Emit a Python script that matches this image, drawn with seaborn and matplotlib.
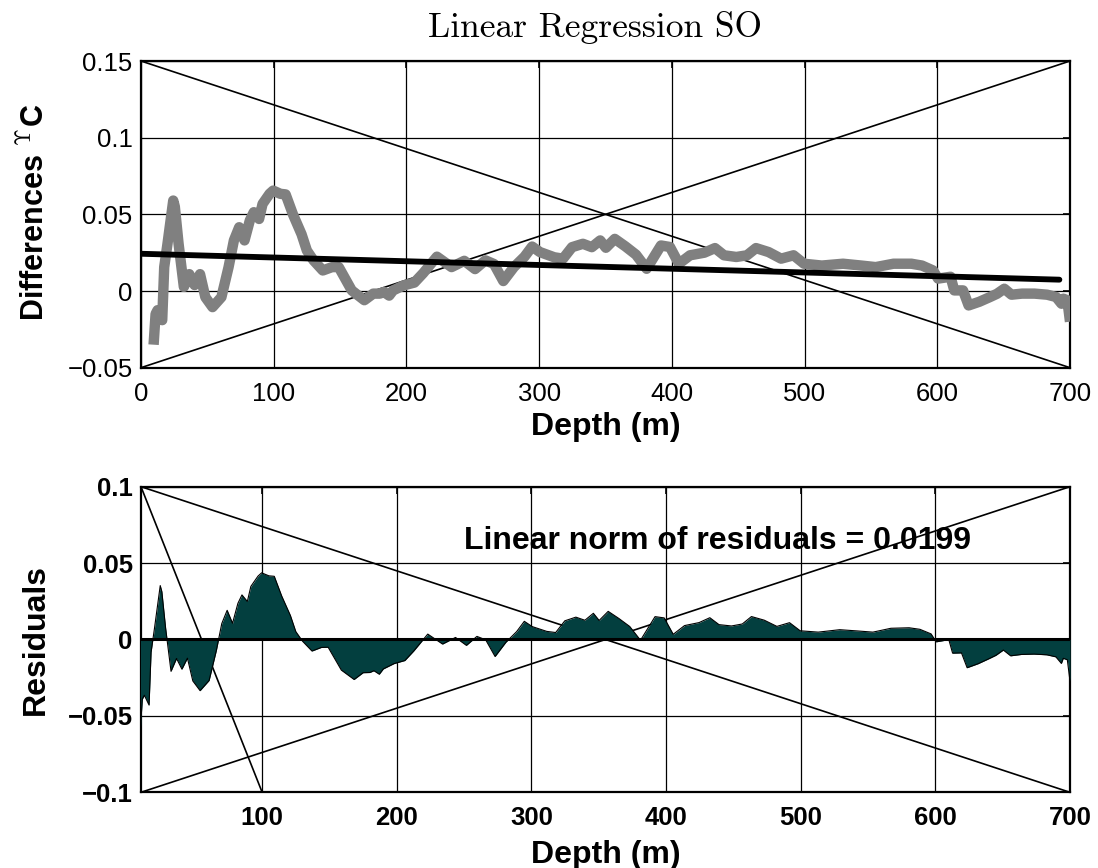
import numpy as np
import pandas as pd
import matplotlib
matplotlib.use("Agg")
import matplotlib.pyplot as plt
import seaborn as sns

# ---------------- data ----------------
depth = [9.5, 11, 12.5, 16, 17.5, 20, 24.3, 25.5, 28.3, 32.3, 36.4, 40.4, 44.5, 48.5,
         53.9, 60.6, 66, 70, 74, 78, 82, 85, 89, 91.6, 96.9, 99.6, 105, 109, 114.5,
         121, 125, 130, 137, 144, 149, 158.8, 168.3, 175, 180, 183, 187, 190, 198,
         206, 212.6, 223, 234, 243.6, 251.7, 259.5, 266, 273, 281, 289, 294.7, 300.6,
         311.4, 318, 324.8, 333, 339.7, 346, 350.3, 357, 365, 373, 381, 391.8, 398.6,
         405.3, 413.7, 424.5, 432.5, 439.3, 448.6, 456.6, 463.4, 472.9, 482.3, 491.7,
         499.6, 513, 529, 542.8, 553.6, 567, 580.5, 588.5, 596.8, 600.6, 610, 612.8,
         619.4, 623.6, 631.7, 639.8, 645, 650.5, 655.9, 663.9, 673.3, 682.8, 689.5,
         693.6, 695, 698, 700]
differences = [-0.035, -0.015, -0.0125, -0.019, 0.0156, 0.031, 0.059, 0.055, 0.031,
               0.0027, 0.011, 0.0039, 0.011, -0.004, -0.0105, -0.004, 0.0156, 0.033,
               0.0416, 0.033, 0.046, 0.0514, 0.047, 0.0568, 0.0634, 0.0655, 0.0634,
               0.063, 0.050, 0.037, 0.0264, 0.020, 0.0134, 0.0156, 0.0156, 0.0004,
               -0.006, -0.0017, -0.0017, -0.0006, -0.003, 0.0004, 0.0037, 0.0055,
               0.0116, 0.0224, 0.0156, 0.0197, 0.0143, 0.020, 0.0176, 0.0065, 0.0156,
               0.0224, 0.029, 0.0254, 0.022, 0.0211, 0.0286, 0.0308, 0.0286, 0.033,
               0.0282, 0.034, 0.0291, 0.0237, 0.0145, 0.0297, 0.0287, 0.0178, 0.0233,
               0.025, 0.028, 0.0233, 0.0222, 0.0233, 0.028, 0.0254, 0.0211, 0.0233,
               0.0178, 0.0166, 0.0178, 0.0166, 0.0156, 0.0178, 0.0178, 0.0166, 0.0134,
               0.0081, 0.0093, 0.0004, 0.0004, -0.0094, -0.007, -0.0039, -0.0018,
               0.0015, -0.0024, -0.0017, -0.0017, -0.0024, -0.0039, -0.0083, -0.005,
               -0.006, -0.020]

# fitted regression line (end points)
fit_depth = [0, 692]
fit_value = [0.0243, 0.0074]

# third guide line in the residual panel
guide_depth = [10, 100]
guide_value = [0.1, -0.1]

top_xticks = [0, 100, 200, 300, 400, 500, 600, 700]
top_yticks = [-0.05, 0, 0.05, 0.1, 0.15]
top_yticklabels = ["\u22120.05", "0", "0.05", "0.1", "0.15"]
bot_xticks = [100, 200, 300, 400, 500, 600, 700]
bot_yticks = [-0.1, -0.05, 0, 0.05, 0.1]
bot_yticklabels = ["\u22120.1", "\u22120.05", "0", "0.05", "0.1"]

title_text = "Linear Regression SO"
norm_text = "Linear norm of residuals = 0.0199"

# ---------------- derived ----------------
df = pd.DataFrame({"depth": depth, "diff": differences})
coef = np.polyfit(fit_depth, fit_value, 1)
df["resid"] = df["diff"] - np.polyval(coef, df["depth"])
fit_df = pd.DataFrame({"depth": fit_depth, "fit": fit_value})

# ---------------- style ----------------
sns.set_theme(style="white")
plt.rcParams["font.family"] = ["Liberation Sans", "DejaVu Sans"]
plt.rcParams["mathtext.fontset"] = "cm"
plt.rcParams["axes.unicode_minus"] = True
for k in ("text.color", "axes.labelcolor", "xtick.color", "ytick.color"):
    plt.rcParams[k] = "black"

fig = plt.figure(figsize=(10.98, 8.68), dpi=100)
ax1 = fig.add_axes([0.1284, 0.5764, 0.8461, 0.3533])
ax2 = fig.add_axes([0.1284, 0.0872, 0.8461, 0.3521])

FS = 18.5
LFS = 23
GRAY = "#808080"
TEAL = "#033f3f"

for ax in (ax1, ax2):
    ax.grid(True, color="black", linewidth=0.9)
    ax.set_axisbelow(True)
    for s in ax.spines.values():
        s.set_color("black")
        s.set_linewidth(1.6)
        s.set_visible(True)
    ax.tick_params(direction="in", length=5, width=1.2, color="black",
                   top=True, right=True, labelsize=FS)
    ax.tick_params(axis="y", pad=6)
    ax.tick_params(axis="x", pad=10)
    # corner-to-corner guide lines
    ax.plot([0, 1], [1, 0], transform=ax.transAxes, color="black", lw=1.2, zorder=3)
    ax.plot([0, 1], [0, 1], transform=ax.transAxes, color="black", lw=1.2, zorder=3)

# ---------------- top panel ----------------
sns.lineplot(data=df, x="depth", y="diff", ax=ax1, color=GRAY, linewidth=7.5,
             sort=False, estimator=None, solid_capstyle="butt",
             solid_joinstyle="round", zorder=4)
sns.lineplot(data=fit_df, x="depth", y="fit", ax=ax1, color="black", linewidth=4.2,
             estimator=None, solid_capstyle="round", zorder=5)
ax1.set_xlim(0, 700)
ax1.set_ylim(-0.05, 0.15)
ax1.set_xticks(top_xticks)
ax1.set_xticklabels([str(t) for t in top_xticks])
ax1.set_yticks(top_yticks)
ax1.set_yticklabels(top_yticklabels)
ax1.set_xlabel("Depth (m)", fontsize=LFS, fontweight="bold", va="top")
ax1.set_ylabel(r"Differences $^{\Upsilon}$C", fontsize=22, fontweight="bold")
ax1.xaxis.set_label_coords(0.5, -0.144)
ax1.yaxis.set_label_coords(-0.097, 0.508)
ax1.set_title(title_text, fontsize=25.5, family="cmr10", pad=17, x=0.489)

# ---------------- bottom panel ----------------
ax2.fill_between(df["depth"], df["resid"], 0, color=TEAL, linewidth=0, zorder=4)
sns.lineplot(data=df, x="depth", y="resid", ax=ax2, color="black", linewidth=0.8,
             estimator=None, zorder=5)
ax2.axhline(0, color="black", linewidth=2.2, zorder=6)
ax2.plot(guide_depth, guide_value, color="black", lw=1.2, zorder=3)
ax2.set_xlim(10, 700)
ax2.set_ylim(-0.1, 0.1)
ax2.set_xticks(bot_xticks)
ax2.set_xticklabels([str(t) for t in bot_xticks], fontweight="bold")
ax2.set_yticks(bot_yticks)
ax2.set_yticklabels(bot_yticklabels, fontweight="bold")
ax2.set_xlabel("Depth (m)", fontsize=LFS, fontweight="bold", va="top")
ax2.set_ylabel("Residuals", fontsize=LFS, fontweight="bold")
ax2.xaxis.set_label_coords(0.5, -0.156)
ax2.yaxis.set_label_coords(-0.097, 0.5)
ax2.text(250, 0.0645, norm_text, fontsize=LFS, fontweight="bold", va="center",
         ha="left", zorder=7)

fig.savefig("out.png", dpi=100)
